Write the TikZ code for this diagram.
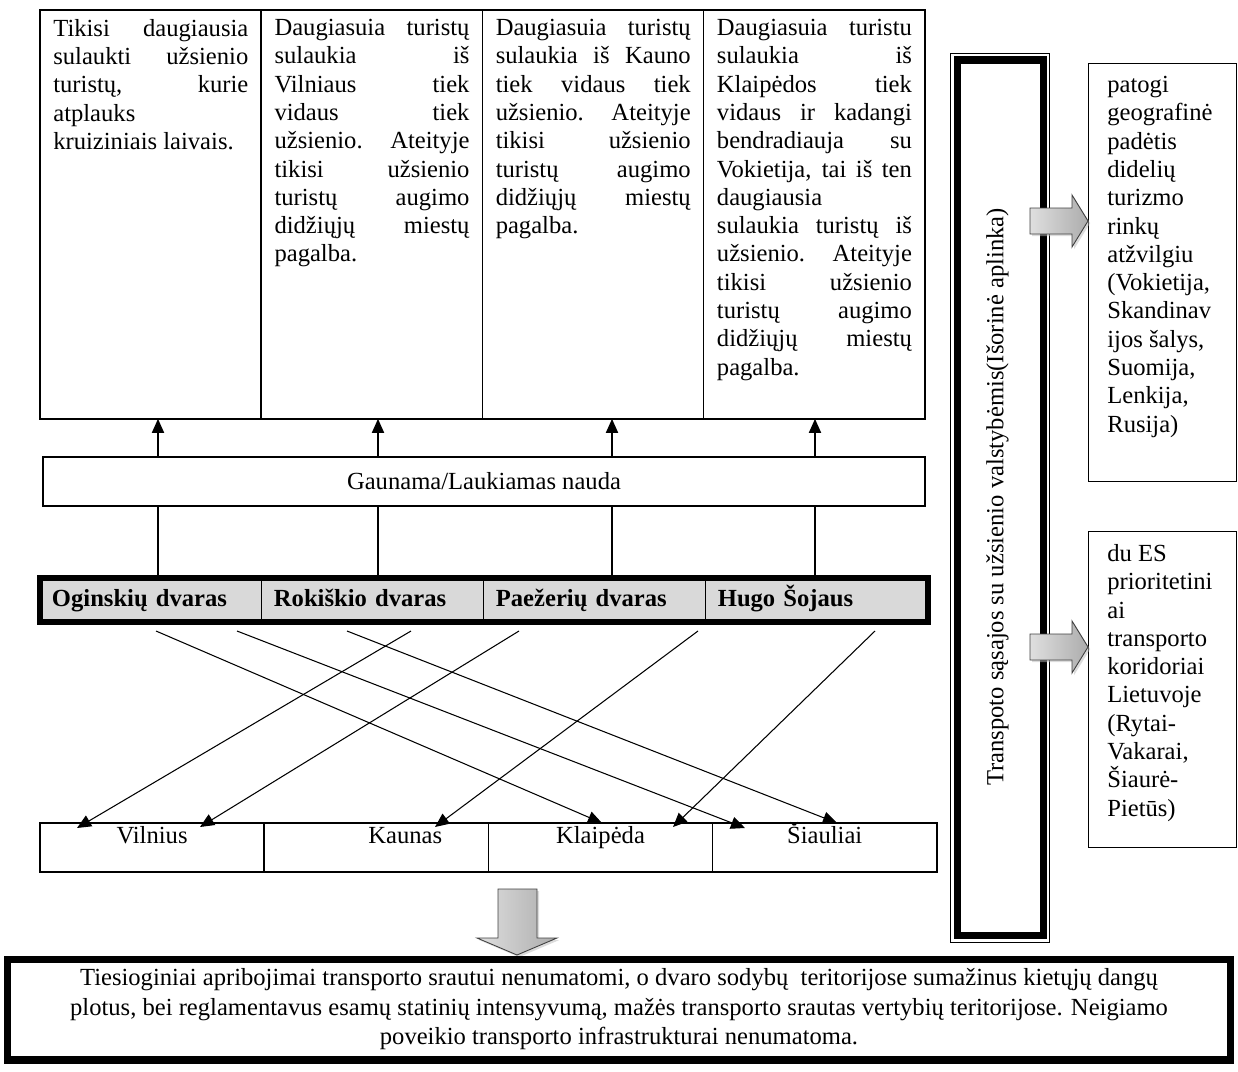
\documentclass[tikz,border=0pt]{standalone}
\usepackage{fontspec}
\setmainfont{Liberation Serif}
\usepackage{xcolor}
\usepackage{tikz}
\usetikzlibrary{arrows.meta,positioning,shadows}
\setlength{\parindent}{0pt}
\hyphenpenalty=10000
\tolerance=10000
\hbadness=10000

\tikzset{
  txt/.style={font=\fontsize{14}{16.1}\selectfont},
  col/.style={draw,line width=0.9pt,minimum width=4.425cm,minimum height=8.18cm,inner sep=0pt,outer sep=0pt,anchor=north west},
  coltext/.style={txt,anchor=north west,text width=3.9cm,align=justify,inner xsep=0.26cm,inner ysep=0.18cm},
  dv/.style={draw,line width=0.6pt,fill=gray!30,font=\fontsize{14}{16.1}\selectfont\bfseries,text width=3.96cm,align=left,inner xsep=0.24cm,inner ysep=0pt,outer sep=0pt,minimum height=0.88cm,execute at begin node={\vphantom{Šų}\strut}},
  city/.style={txt,draw,line width=0.9pt,minimum width=4.485cm,inner ysep=0pt,outer sep=0pt,text height=11.4pt,text depth=16.5pt},
  sidebox/.style={draw,line width=0.6pt,minimum width=2.96cm,inner sep=0pt,anchor=north west},
  sidetext/.style={txt,anchor=north west,align=left,inner xsep=0.38cm,inner ysep=0.26cm},
  garrow/.style={draw=gray!50!black,line width=0.5pt,left color=gray!25,right color=gray!65,drop shadow={shadow xshift=1.2pt,shadow yshift=-1.2pt,fill=gray!55}}
}

\begin{document}
\begin{tikzpicture}[x=0.02cm,y=-0.02cm,>={Triangle[length=8pt,width=7pt]}]
\useasboundingbox (0,0) rectangle (1238,1072);

% top table
\node[col] (c1) at (40,10) {};
\node[col,right=0pt of c1] (c2) {};
\node[col,right=0pt of c2] (c3) {};
\node[col,right=0pt of c3] (c4) {};
\node[coltext] (t1) at (c1.north west) {Tikisi daugiausia\linebreak sulaukti užsienio\linebreak turistų, kurie\linebreak atplauks\\ kruiziniais laivais.};
\node[coltext] (t2) at (c2.north west) {Daugiasuia turistų\linebreak sulaukia iš\linebreak Vilniaus tiek\linebreak vidaus tiek\linebreak užsienio. Ateityje\linebreak tikisi užsienio\linebreak turistų augimo\linebreak didžiųjų miestų\linebreak pagalba.};
\node[coltext] (t3) at (c3.north west) {Daugiasuia turistų\linebreak sulaukia iš Kauno\linebreak tiek vidaus tiek\linebreak užsienio. Ateityje\linebreak tikisi užsienio\linebreak turistų augimo\linebreak didžiųjų miestų\linebreak pagalba.};
\node[coltext] (t4) at (c4.north west) {Daugiasuia turistu\linebreak sulaukia iš\linebreak Klaipėdos tiek\linebreak vidaus ir kadangi\linebreak bendradiauja su\linebreak Vokietija, tai iš ten\linebreak daugiausia\\ sulaukia turistų iš\linebreak užsienio. Ateityje\linebreak tikisi užsienio\linebreak turistų augimo\linebreak didžiųjų miestų\linebreak pagalba.};

\node[draw,txt,line width=0.9pt,minimum width=17.64cm,minimum height=0.98cm] (g) at (484,481.5) {Gaunama/Laukiamas nauda};

% dvarai
\node[dv,anchor=north west] (d1) at (40,578) {Oginskių dvaras};
\node[dv,right=0pt of d1] (d2) {Rokiškio dvaras};
\node[dv,right=0pt of d2] (d3) {Paežerių dvaras};
\node[dv,right=0pt of d3] (d4) {Hugo Šojaus};
\draw[line width=3.4pt] (d1.north west) rectangle (d4.south east);

\foreach \x [count=\i] in {158,378,612,815}
  \coordinate (k\i) at (\x,0);
\foreach \i in {1,...,4}{
  \draw[line width=0.6pt] (d\i.north -| k\i) -- (g.south -| k\i);
  \draw[->,line width=0.6pt] (g.north -| k\i) -- (c\i.south -| k\i);
}

% miestai
\node[city,anchor=north west] (m1) at (40,823) {Vilnius};
\node[city,right=0pt of m1] (m2) {\hspace*{1.16cm}Kaunas};
\node[city,right=0pt of m2] (m3) {Klaipėda};
\node[city,right=0pt of m3] (m4) {Šiauliai};

\foreach \sx/\ex/\ey [count=\i] in {156/602/823,237/745/828,347/837/823,411/77/828,519/200/827,698/435/827,875/673/827}{
  \coordinate (s\i) at (\sx,631);
  \coordinate (e\i) at (\ex,\ey);
  \draw[->,line width=0.6pt] (s\i) -- (e\i);
}

% isorine aplinka
\draw[line width=0.5pt] (950.5,53.5) rectangle (1049.5,942.5);
\draw[line width=4pt] (957.5,60) rectangle (1043.5,935.5);
\node[txt,rotate=90] (vt) at (997.5,497) {Transpoto sąsajos su užsienio valstybėmis(Išorinė aplinka)};

\node[sidebox,minimum height=8.36cm] (r1) at (1088,63) {};
\node[sidetext] (r1t) at (r1.north west) {patogi\\ geografinė\\ padėtis\\ didelių\\ turizmo\\ rinkų\\ atžvilgiu\\ (Vokietija,\\ Skandinav\\ ijos šalys,\\ Suomija,\\ Lenkija,\\ Rusija)};
\node[sidebox,minimum height=6.32cm] (r2) at (1088,531) {};
\node[sidetext] (r2t) at (r2.north west) {du ES\\ prioritetini\\ ai\\ transporto\\ koridoriai\\ Lietuvoje\\ (Rytai-\\ Vakarai,\\ Šiaurė-\\ Pietūs)};

\path[garrow] (1030,208) -- (1072,208) -- (1072,195) -- (1088,221) -- (1072,247) -- (1072,234) -- (1030,234) -- cycle;
\path[garrow] (1030,634) -- (1072,634) -- (1072,621) -- (1088,647) -- (1072,673) -- (1072,660) -- (1030,660) -- cycle;

% isvada
\path[garrow] (498,889) -- (537,889) -- (537,938) -- (557,938) -- (517,955) -- (477,938) -- (498,938) -- cycle;
\node[draw,line width=4pt,minimum width=24.48cm,minimum height=2.02cm,align=center,font=\fontsize{14}{16.8}\selectfont] (b) at (619,1009.5) {Tiesioginiai apribojimai transporto srautui nenumatomi, o dvaro sodybų\ \ teritorijose sumažinus kietųjų dangų\\ plotus, bei reglamentavus esamų statinių intensyvumą, mažės transporto srautas vertybių teritorijose. Neigiamo\\ poveikio transporto infrastrukturai nenumatoma.};
\end{tikzpicture}
\end{document}
